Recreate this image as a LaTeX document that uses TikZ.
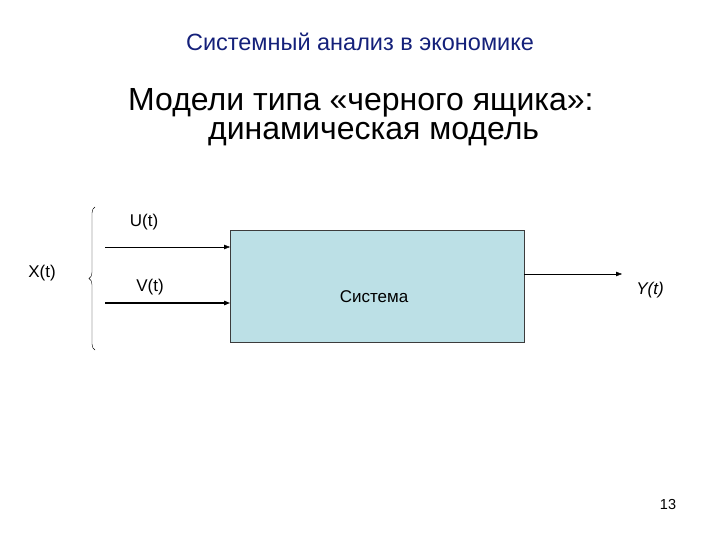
\documentclass[tikz,border=0pt]{standalone}
\usepackage{fontspec}
\setmainfont{Liberation Sans}
\usetikzlibrary{positioning, arrows.meta, decorations.pathreplacing}
\definecolor{TitleBlue}{HTML}{14207A}
\definecolor{BoxFill}{HTML}{BCE0E6}
\definecolor{BoxLine}{HTML}{3C3C3C}

\begin{document}
\begin{tikzpicture}[
    x=1pt, y=-1pt,
    sysbox/.style={draw=BoxLine, fill=BoxFill, minimum width=294pt, minimum height=112pt},
    lbl/.style={font=\fontsize{17}{20}\selectfont, inner sep=0pt},
    arr/.style={-{Triangle[length=6pt, width=4.5pt]}, thin},
    every node/.style={inner sep=0pt}
]
\useasboundingbox (0,0) rectangle (720,540);

% Headings
\node[font=\fontsize{23.5}{28}\selectfont, text=TitleBlue] (title) at (360,42) {Системный анализ в экономике};
\node[font=\fontsize{32}{38}\selectfont, anchor=base west] (head1) at (128,111) {Модели типа «черного ящика»:};
\node[font=\fontsize{32}{38}\selectfont, anchor=base west] (head2) at (208,140) {динамическая модель};

% System block
\node[sysbox, anchor=north west] (sys) at (230,230) {};
\node[lbl] (systxt) at (374,297) {Система};

% Inputs
\coordinate (uin) at (105,247);
\coordinate (vin) at (105,303);
\draw[arr] (uin) -- (uin -| sys.west);
\draw[arr, line width=1.2pt] (vin) -- (vin -| sys.west);
\node[lbl] (ulbl) at (144,222) {U(t)};
\node[lbl] (vlbl) at (150,287) {V(t)};

% Input vector
\node[lbl] (xlbl) at (42,273) {X(t)};
\coordinate (brbot) at (95,350);
\coordinate (brtop) at (95,207);
\draw[decorate, decoration={brace, amplitude=6pt}, thin] (brbot) -- (brtop);

% Output
\coordinate (yout) at (622,274);
\draw[arr] (sys.east |- yout) -- (yout);
\node[lbl, font=\fontsize{17}{20}\selectfont\itshape] (ylbl) at (650,290) {Y(t)};

% Page number
\node[font=\fontsize{14.5}{17}\selectfont] (pnum) at (668,505) {13};

\end{tikzpicture}
\end{document}
